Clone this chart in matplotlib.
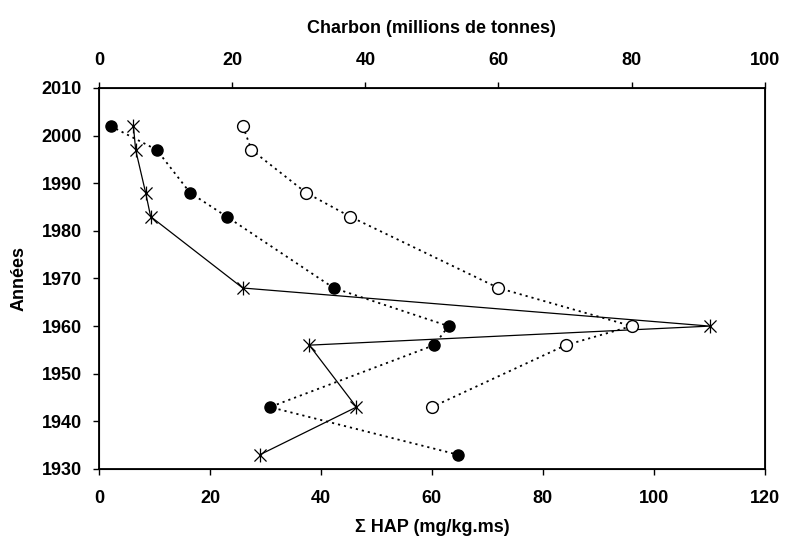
import matplotlib
matplotlib.use("Agg")
import matplotlib.pyplot as plt
from matplotlib.path import Path

plt.rcParams['font.family'] = ['Liberation Sans', 'DejaVu Sans']
plt.rcParams['font.weight'] = 'bold'

# sampled years and values
years = [2002, 1997, 1988, 1983, 1968, 1960, 1956, 1943, 1933]
hap_a = [6.2, 6.6, 8.4, 9.3, 25.9, 110.1, 37.9, 46.4, 29.0]   # asterisks, mg/kg.ms
hap_b = [2.1, 10.4, 16.4, 23.0, 42.3, 63.0, 60.4, 30.8, 64.7]  # filled circles, mg/kg.ms
coal_years = [2002, 1997, 1988, 1983, 1968, 1960, 1956, 1943]
coal = [21.6, 22.9, 31.1, 37.7, 60.0, 80.0, 70.1, 50.0]        # millions de tonnes

# star marker: an X plus a vertical stroke
star = Path([(-1, -1), (1, 1), (-1, 1), (1, -1), (0, -1.15), (0, 1.15)],
            [Path.MOVETO, Path.LINETO, Path.MOVETO, Path.LINETO, Path.MOVETO, Path.LINETO])

fig = plt.figure(figsize=(7.86, 5.43), dpi=100)
ax = fig.add_axes([0.126, 0.1363, 0.847, 0.7017])

dots = (0, (1.2, 2.2))
ax.plot(hap_b, years, color='black', linestyle=dots, linewidth=1.3,
        marker='o', markersize=8, markerfacecolor='black', zorder=3)
ax.plot(hap_a, years, color='black', linestyle='-', linewidth=0.9,
        marker=star, markersize=10, markeredgewidth=0.9, markerfacecolor='none', zorder=4)

ax.set_xlim(0, 120)
ax.set_ylim(1930, 2010)
ax.set_xticks(range(0, 121, 20))
ax.set_yticks(range(1930, 2011, 10))
ax.tick_params(direction='out', length=4.5, width=1, labelsize=13)
ax.tick_params(axis='x', pad=10.5)
ax.tick_params(axis='y', pad=8)
ax.set_xlabel('Σ HAP (mg/kg.ms)', fontsize=13, fontweight='bold', labelpad=8.5)
ax.set_ylabel('Années', fontsize=13, fontweight='bold', labelpad=10)
for s in ax.spines.values():
    s.set_linewidth(1.3)

top = ax.twiny()
top.plot(coal, coal_years, color='black', linestyle=dots, linewidth=1.3,
         marker='o', markersize=8.5, markerfacecolor='white', markeredgewidth=1, zorder=3)
top.set_xlim(0, 100)
top.set_xticks(range(0, 101, 20))
top.tick_params(direction='out', length=4.5, width=1, labelsize=13, pad=9)
top.set_xlabel('Charbon (millions de tonnes)', fontsize=13, fontweight='bold', labelpad=14)

fig.savefig('out.png', dpi=100)
